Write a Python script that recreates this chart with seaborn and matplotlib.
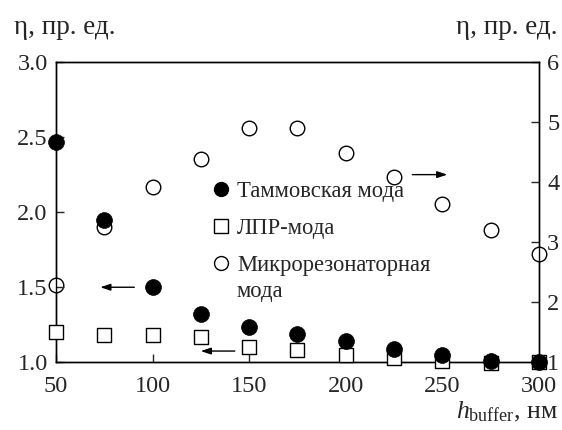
import matplotlib
matplotlib.use("Agg")
import matplotlib.pyplot as plt
import seaborn as sns
import pandas as pd
from matplotlib.lines import Line2D

h_buffer = [50, 75, 100, 125, 150, 175, 200, 225, 250, 275, 300]
tamm = [2.47, 1.95, 1.50, 1.32, 1.235, 1.19, 1.14, 1.09, 1.05, 1.01, 1.0]
lpr = [1.20, 1.18, 1.18, 1.17, 1.10, 1.08, 1.05, 1.03, 1.01, 0.995, 1.0]
micro = [2.28, 3.25, 3.92, 4.39, 4.90, 4.90, 4.49, 4.09, 3.64, 3.20, 2.81]

left_ticks = [1.0, 1.5, 2.0, 2.5, 3.0]
right_ticks = [1, 2, 3, 4, 5, 6]
x_ticks = [50, 100, 150, 200, 250, 300]

sns.set_style("ticks")
plt.rcParams["font.family"] = ["Liberation Serif", "DejaVu Serif"]
plt.rcParams["mathtext.fontset"] = "custom"
plt.rcParams["mathtext.rm"] = "Liberation Serif"
plt.rcParams["mathtext.it"] = "Liberation Serif:italic"

df_left = pd.DataFrame({"h": h_buffer, "tamm": tamm, "lpr": lpr})
df_right = pd.DataFrame({"h": h_buffer, "micro": micro})

fig = plt.figure(figsize=(5.62, 4.30), dpi=100)
ax = fig.add_axes([0.0996, 0.1574, 0.8594, 0.6984])
ax2 = ax.twinx()

sns.scatterplot(data=df_right, x="h", y="micro", ax=ax2, marker="o", s=110,
                facecolor="white", edgecolor="black", linewidth=1.0, zorder=3, clip_on=False)
sns.scatterplot(data=df_left, x="h", y="lpr", ax=ax, marker="s", s=100,
                facecolor="white", edgecolor="black", linewidth=1.0, zorder=3, clip_on=False)
sns.scatterplot(data=df_left, x="h", y="tamm", ax=ax, marker="o", s=130,
                color="black", edgecolor="black", linewidth=0.5, zorder=4, clip_on=False)

ax.set_zorder(ax2.get_zorder() + 1)
ax.patch.set_visible(False)

ax.set_xlim(50, 300)
ax.set_ylim(1.0, 3.0)
ax2.set_ylim(1, 6)
ax.set_xticks(x_ticks)
ax.set_yticks(left_ticks)
ax.set_yticklabels([f"{v:.1f}" for v in left_ticks])
ax2.set_yticks(right_ticks)
ax.set_xlabel("")
ax.set_ylabel("")
ax2.set_ylabel("")

for a in (ax, ax2):
    for sp in a.spines.values():
        sp.set_visible(True)
        sp.set_linewidth(1.0)
        sp.set_color("black")
ax.tick_params(axis="y", direction="in", length=6, width=1, labelsize=17.5, pad=6,
               right=False)
ax.tick_params(axis="x", direction="in", length=6, width=1, labelsize=17.5, pad=10,
               top=False)
ax2.tick_params(axis="y", direction="in", length=6, width=1, labelsize=17.5, pad=6)

# arrows
arrow_kw = dict(arrowstyle="-|>,head_length=0.6,head_width=0.2", color="black", lw=1.0)
ax.annotate("", xy=(71.5, 1.5), xytext=(92, 1.5), arrowprops=arrow_kw)
ax.annotate("", xy=(123.5, 1.075), xytext=(144, 1.075), arrowprops=arrow_kw)
ax.annotate("", xy=(254, 2.25), xytext=(233, 2.25), arrowprops=arrow_kw)

handles = [
    Line2D([], [], marker="o", ls="none", markersize=10, markerfacecolor="black", markeredgecolor="black"),
    Line2D([], [], marker="s", ls="none", markersize=9.5, markerfacecolor="white", markeredgecolor="black"),
    Line2D([], [], marker="o", ls="none", markersize=10, markerfacecolor="white", markeredgecolor="black"),
]
labels = ["Таммовская мода", "ЛПР-мода", "Микрорезонаторная"]
ax.legend(handles, labels, loc="upper left", bbox_to_anchor=(0.30, 0.635), frameon=False,
          fontsize=16.3, handletextpad=0.2, handlelength=1.0, labelspacing=0.72,
          borderaxespad=0)
fig.text(237 / 562, 1 - 292 / 430, "мода", fontsize=16.3, ha="left", va="center")

fig.text(14 / 562, 1 - 27 / 430, "η, пр. ед.", fontsize=19.5, ha="left", va="center")
fig.text(558 / 562, 1 - 27 / 430, "η, пр. ед.", fontsize=19.5, ha="right", va="center")
fig.text(558 / 562, 1 - 412 / 430, r"$h_{\mathrm{buffer}}$, нм", fontsize=18.5, ha="right", va="center")

fig.savefig("out.png", dpi=100)
